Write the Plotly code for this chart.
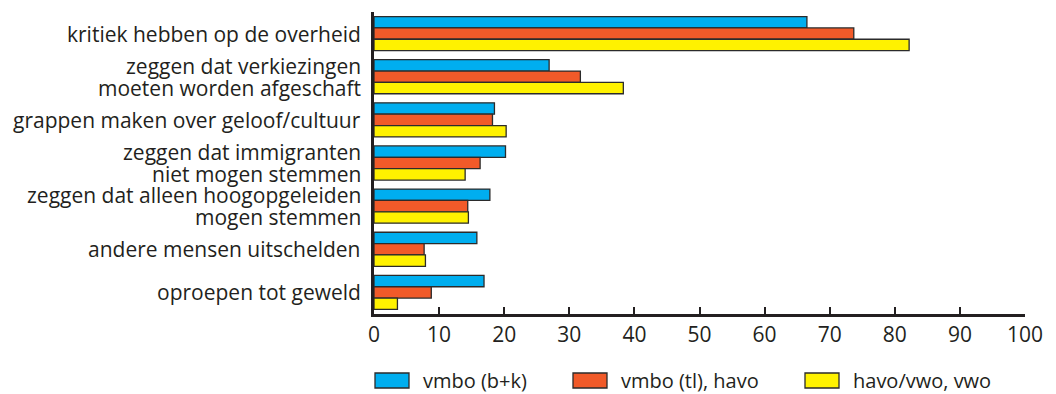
import plotly.graph_objects as go

categories = [
    "kritiek hebben op de overheid",
    "zeggen dat verkiezingen<br>moeten worden afgeschaft",
    "grappen maken over geloof/cultuur",
    "zeggen dat immigranten<br>niet mogen stemmen",
    "zeggen dat alleen hoogopgeleiden<br>mogen stemmen",
    "andere mensen uitschelden",
    "oproepen tot geweld",
]
series_names = ["vmbo (b+k)", "vmbo (tl), havo", "havo/vwo, vwo"]
vmbo_bk = [66.5, 26.9, 18.5, 20.2, 17.8, 15.8, 16.9]
vmbo_tl_havo = [73.7, 31.7, 18.2, 16.3, 14.4, 7.7, 8.8]
havo_vwo = [82.2, 38.3, 20.3, 14.0, 14.5, 7.9, 3.6]
x_ticks = [0, 10, 20, 30, 40, 50, 60, 70, 80, 90, 100]

colors = ["#00AEEF", "#F15A29", "#FFF200"]
ink = "#231f20"
font = "Open Sans"

# page body has an 8px margin, so the figure is shrunk to fit the window
OFF = 8
W, H = 1056 - OFF, 394 - OFF
L, R, T, B = 374 - OFF, 31, 12 - OFF, 80
pw, ph = W - L - R, H - T - B


def px(x):
    # window pixel -> paper x
    return (x - OFF - L) / pw


def py(y):
    # window pixel -> paper y
    return (H - B - (y - OFF)) / ph


fig = go.Figure()
for name, vals, col in zip(series_names, [vmbo_bk, vmbo_tl_havo, havo_vwo], colors):
    fig.add_trace(go.Bar(
        y=categories, x=vals, name=name, orientation="h",
        marker=dict(color=col, line=dict(color="#2b2b2b", width=1.3)),
        showlegend=False,
    ))

shapes = []
annotations = []

# category labels as annotations so the two-line ones get tight leading
line_gap = 22
for cat in categories:
    lines = cat.split("<br>")
    n = len(lines)
    for i, line in enumerate(lines):
        annotations.append(dict(xref="paper", yref="y", x=px(363), y=cat,
                                yshift=((n - 1) / 2 - i) * line_gap,
                                text=line, showarrow=False, xanchor="right",
                                yanchor="middle",
                                font=dict(size=21, color=ink, family=font)))

# legend drawn by hand, wide swatches like the original
legend_boxes = [375, 573, 805]
for name, col, bx in zip(series_names, colors, legend_boxes):
    shapes.append(dict(type="rect", xref="paper", yref="paper",
                       x0=px(bx), x1=px(bx + 34), y0=py(388), y1=py(373),
                       fillcolor=col, line=dict(color="#2b2b2b", width=1.3)))
    annotations.append(dict(xref="paper", yref="paper", x=px(bx + 46), y=py(380.5),
                            text=name, showarrow=False, xanchor="left", yanchor="middle",
                            font=dict(size=20, color=ink, family=font)))

fig.update_layout(
    width=W, height=H,
    margin=dict(l=L, r=R, t=T, b=B),
    barmode="group", bargap=0.21, bargroupgap=0,
    plot_bgcolor="white", paper_bgcolor="white",
    font=dict(family=font, color=ink),
    shapes=shapes, annotations=annotations,
    xaxis=dict(range=[0, 100], tickvals=x_ticks, ticks="inside", ticklen=7,
               tickwidth=2, tickcolor=ink, showline=True, linewidth=2.5,
               linecolor=ink, showgrid=False, zeroline=False,
               tickfont=dict(size=21, color=ink, family=font)),
    yaxis=dict(autorange="reversed", showline=True, linewidth=2.5, linecolor=ink,
               ticks="", showgrid=False, showticklabels=False),
)

fig.write_html("out.html")
